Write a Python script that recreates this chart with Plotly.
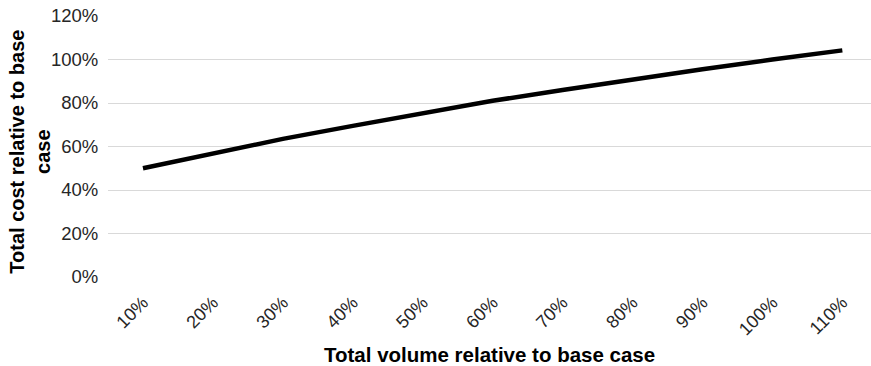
import plotly.graph_objects as go

# Scenario data: total volume vs. total cost, both relative to the base case
volume_labels = ["10%", "20%", "30%", "40%", "50%", "60%", "70%", "80%", "90%", "100%", "110%"]
cost_relative = [0.50, 0.57, 0.635, 0.695, 0.755, 0.81, 0.86, 0.91, 0.955, 1.00, 1.042]

y_ticks = [0, 0.2, 0.4, 0.6, 0.8, 1.0, 1.2]

W, H = 871, 366
M_L, M_R, M_T, M_B = 108, 0, 16, 89

fig = go.Figure()
fig.add_trace(go.Scatter(
    x=list(range(len(volume_labels))),
    y=cost_relative,
    mode="lines",
    line=dict(color="#000000", width=4.5),
    hoverinfo="skip",
))

font_family = "Liberation Sans, Arial, sans-serif"

fig.update_layout(
    width=W, height=H,
    margin=dict(l=M_L, r=M_R, t=M_T, b=M_B, pad=0),
    paper_bgcolor="white", plot_bgcolor="white",
    showlegend=False,
    font=dict(family=font_family, size=18, color="#262626"),
    xaxis=dict(
        tickmode="array",
        tickvals=list(range(len(volume_labels))),
        ticktext=volume_labels,
        tickangle=-45,
        range=[-0.5, 10.41],
        showgrid=False, zeroline=False, showline=False,
        ticks="outside", ticklen=7, tickcolor="rgba(0,0,0,0)",
        tickfont=dict(size=18, color="#262626"),
    ),
    yaxis=dict(
        tickmode="array",
        tickvals=y_ticks,
        tickformat=".0%",
        range=[0, 1.2],
        showgrid=True, gridcolor="#d9d9d9", gridwidth=1.3,
        zeroline=False, showline=False,
        ticks="outside", ticklen=5, tickcolor="rgba(0,0,0,0)",
        tickfont=dict(size=18.5, color="#262626"),
    ),
    annotations=[
        dict(
            text="<b>Total volume relative to base case</b>",
            xref="paper", yref="paper",
            x=0.5, y=-0.297, xanchor="center", yanchor="middle",
            showarrow=False,
            font=dict(family=font_family, size=20.5, color="#000000"),
        ),
        dict(
            text="<b>Total cost relative to base<br>case</b>",
            xref="paper", yref="paper",
            x=(30 - M_L) / (W - M_L - M_R), y=0.48,
            xanchor="center", yanchor="middle",
            textangle=-90, showarrow=False,
            font=dict(family=font_family, size=20, color="#000000"),
        ),
    ],
)

fig.write_html("out.html")
